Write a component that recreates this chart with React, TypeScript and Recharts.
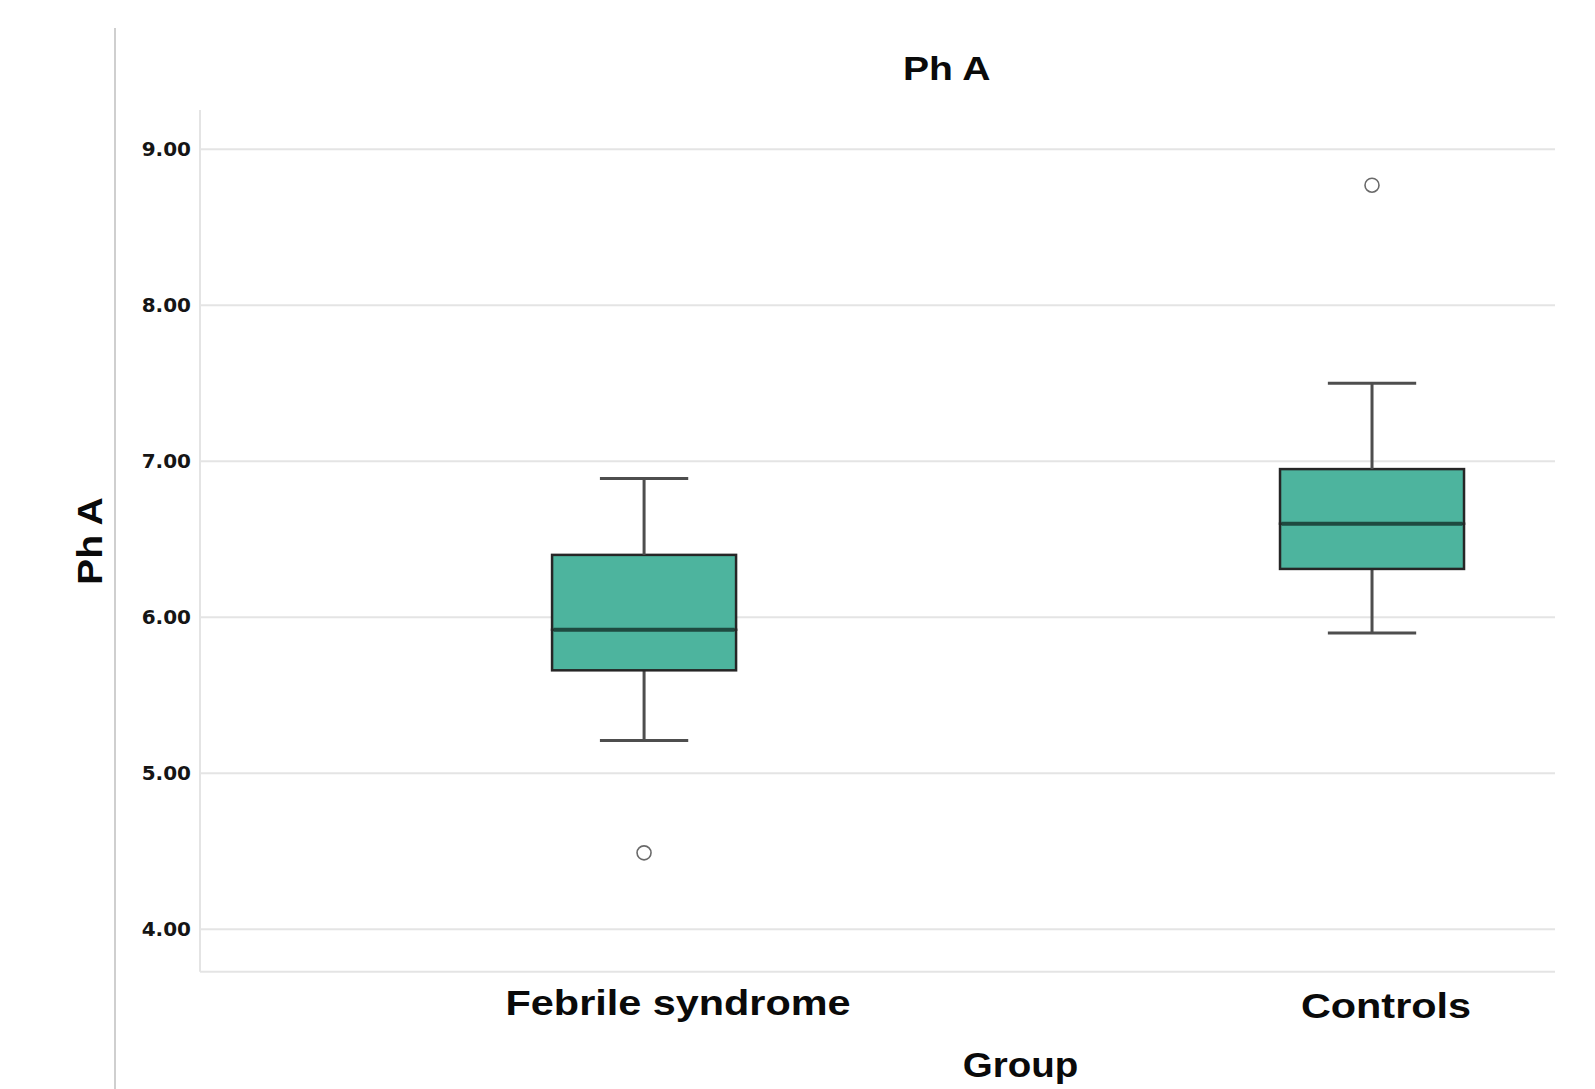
import React from 'react';
import { ComposedChart, Bar, Scatter, XAxis, YAxis, CartesianGrid } from 'recharts';

// ---- data ----
const categories = ['Febrile syndrome', 'Controls'];
const whiskerLow = [5.21, 5.9];
const q1 = [5.66, 6.31];
const median = [5.92, 6.6];
const q3 = [6.4, 6.95];
const whiskerHigh = [6.89, 7.5];
const outliers = [4.49, 8.77];
const yTicks = [4, 5, 6, 7, 8, 9];

const data = categories.map((name, i) => ({
  pos: i,
  name,
  base: whiskerLow[i],
  lowWhisker: q1[i] - whiskerLow[i],
  lowBox: median[i] - q1[i],
  highBox: q3[i] - median[i],
  highWhisker: whiskerHigh[i] - q3[i],
  outlier: outliers[i],
}));

// ---- styles ----
const W = 1595;
const H = 1089;
const TEAL = '#4db49e';
const BOX_STROKE = '#262626';
const MEDIAN = '#1e4a40';
const WHISKER = '#4e4e4e';
const GRID = '#e4e4e4';
const LABEL_FONT = '"Liberation Sans", Arial, sans-serif';
const TICK_NUDGE = [
  { dx: 34, dy: 35 },
  { dx: 14, dy: 38 },
];

const Empty = () => <g />;

const LowWhiskerShape = (p: any) => {
  const { x, y, width, height } = p;
  const cx = x + width / 2;
  const cap = width * 0.24;
  return (
    <g>
      <line x1={cx} x2={cx} y1={y} y2={y + height} stroke={WHISKER} strokeWidth={3} />
      <line x1={cx - cap} x2={cx + cap} y1={y + height} y2={y + height} stroke={WHISKER} strokeWidth={3} />
    </g>
  );
};

const HighWhiskerShape = (p: any) => {
  const { x, y, width, height } = p;
  const cx = x + width / 2;
  const cap = width * 0.24;
  return (
    <g>
      <line x1={cx} x2={cx} y1={y} y2={y + height} stroke={WHISKER} strokeWidth={3} />
      <line x1={cx - cap} x2={cx + cap} y1={y} y2={y} stroke={WHISKER} strokeWidth={3} />
    </g>
  );
};

const LowBoxShape = (p: any) => {
  const { x, y, width, height } = p;
  return <rect x={x} y={y} width={width} height={height} fill={TEAL} stroke={BOX_STROKE} strokeWidth={2.5} />;
};

const HighBoxShape = (p: any) => {
  const { x, y, width, height } = p;
  return (
    <g>
      <rect x={x} y={y} width={width} height={height} fill={TEAL} stroke={BOX_STROKE} strokeWidth={2.5} />
      <line x1={x + 1.5} x2={x + width - 1.5} y1={y + height} y2={y + height} stroke={MEDIAN} strokeWidth={4} />
    </g>
  );
};

const OutlierShape = (p: any) => (
  <circle cx={p.cx} cy={p.cy} r={7} fill="#ffffff" stroke="#6a6a6a" strokeWidth={1.6} />
);

const XTick = (p: any) => {
  const { x, y, payload } = p;
  const i = payload.value as number;
  const n = TICK_NUDGE[i] || { dx: 0, dy: 35 };
  return (
    <g transform={`translate(${x + n.dx},${y + n.dy}) scale(1.15,1)`}>
      <text x={0} y={0} textAnchor="middle" fontFamily={LABEL_FONT} fontWeight={700} fontSize={36} fill="#0a0a0a">
        {categories[i]}
      </text>
    </g>
  );
};

export default function App() {
  return (
    <div style={{ position: 'absolute', left: 0, top: 0, width: W, height: H, background: '#fff' }}>
      <ComposedChart width={W} height={H} data={data} margin={{ top: 110, right: 40, bottom: 0, left: 0 }}>
        <CartesianGrid horizontal vertical={false} stroke={GRID} strokeWidth={2} syncWithTicks />
        <XAxis
          dataKey="pos"
          type="number"
          domain={[-0.61, 1.2514]}
          ticks={[0, 1]}
          allowDataOverflow
          interval={0}
          tickLine={false}
          axisLine={{ stroke: GRID, strokeWidth: 2 }}
          tick={<XTick />}
          height={117.3}
        />
        <YAxis
          type="number"
          domain={[3.728, 9.252]}
          ticks={yTicks}
          allowDataOverflow
          interval={0}
          width={200}
          tickLine={false}
          tickMargin={3}
          axisLine={{ stroke: GRID, strokeWidth: 2 }}
          tickFormatter={(v: number) => v.toFixed(2)}
          tick={{ fill: '#151515', fontSize: 20, fontFamily: '"DejaVu Sans", sans-serif', fontWeight: 700 }}
        />
        <Bar dataKey="base" stackId="box" barSize={184} shape={<Empty />} isAnimationActive={false} />
        <Bar dataKey="lowWhisker" stackId="box" barSize={184} shape={LowWhiskerShape} isAnimationActive={false} />
        <Bar dataKey="lowBox" stackId="box" barSize={184} shape={LowBoxShape} isAnimationActive={false} />
        <Bar dataKey="highBox" stackId="box" barSize={184} shape={HighBoxShape} isAnimationActive={false} />
        <Bar dataKey="highWhisker" stackId="box" barSize={184} shape={HighWhiskerShape} isAnimationActive={false} />
        <Scatter dataKey="outlier" shape={OutlierShape} isAnimationActive={false} />
      </ComposedChart>
      <svg
        width={W}
        height={H}
        style={{ position: 'absolute', left: 0, top: 0, pointerEvents: 'none' }}
      >
        <line x1={115} x2={115} y1={28} y2={H} stroke="#cfcfcf" strokeWidth={2} />
        <g transform="translate(946.7,80) scale(1.15,1)">
          <text x={0} y={0} textAnchor="middle" fontFamily={LABEL_FONT} fontWeight={700} fontSize={34} fill="#0a0a0a">
            Ph A
          </text>
        </g>
        <g transform="translate(1020.5,1076.7) scale(1.1,1)">
          <text x={0} y={0} textAnchor="middle" fontFamily={LABEL_FONT} fontWeight={700} fontSize={35} fill="#0a0a0a">
            Group
          </text>
        </g>
        <g transform="translate(101.7,541) rotate(-90) scale(1.12,1)">
          <text x={0} y={0} textAnchor="middle" fontFamily={LABEL_FONT} fontWeight={700} fontSize={35} fill="#0a0a0a">
            Ph A
          </text>
        </g>
      </svg>
    </div>
  );
}
